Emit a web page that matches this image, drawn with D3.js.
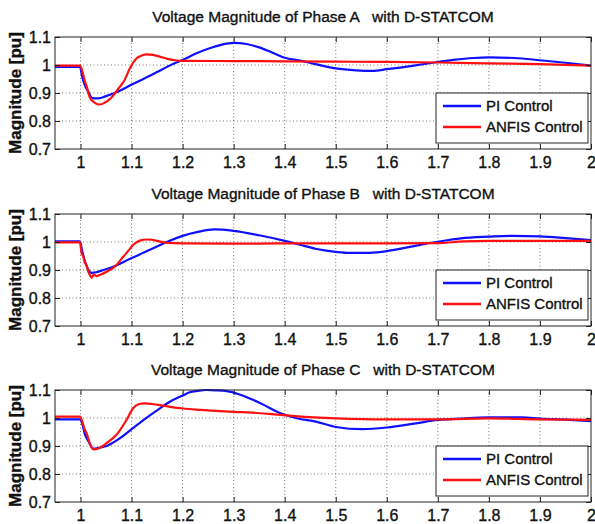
<!DOCTYPE html>
<html>
<head>
<meta charset="utf-8">
<script src="https://cdn.jsdelivr.net/npm/d3@7"></script>
<style>
  body { margin: 0; background: #fff; }
  svg { display: block; font-family: "Liberation Sans", Arial, sans-serif; }
  svg text { stroke: #111; stroke-width: 0.35px; }
  .grid line { stroke: #777; stroke-dasharray: 1,2.5; stroke-width: 1; }
  .axis path { display: none; }
  .axis line { stroke: #222; }
  .axis text { font-size: 16px; fill: #111; }
</style>
</head>
<body>
<div id="chart"></div>
<script>
const width = 595;
const height = 524;

const xTicks = [1, 1.1, 1.2, 1.3, 1.4, 1.5, 1.6, 1.7, 1.8, 1.9, 2];
const yTicks = [0.7, 0.8, 0.9, 1, 1.1];
const titles = [
    'Voltage Magnitude of Phase A   with D-STATCOM',
    'Voltage Magnitude of Phase B   with D-STATCOM',
    'Voltage Magnitude of Phase C   with D-STATCOM'
];
const legendLabels = ['PI Control', 'ANFIS Control'];
const seriesColors = ['#1010ff', '#ff1010'];

// Phase A
const aPiT = [0.95, 0.999, 1.003, 1.008, 1.015, 1.023, 1.035, 1.05, 1.064, 1.08, 1.1, 1.125, 1.15, 1.18, 1.2, 1.225, 1.25, 1.275, 1.3, 1.325, 1.35, 1.375, 1.4, 1.43, 1.46, 1.5, 1.54, 1.572, 1.6, 1.65, 1.69, 1.73, 1.77, 1.8, 1.85, 1.9, 1.95, 2.0];
const aPiV = [0.993, 0.993, 0.96, 0.93, 0.905, 0.882, 0.881, 0.889, 0.898, 0.911, 0.93, 0.952, 0.975, 1.003, 1.018, 1.04, 1.058, 1.072, 1.079, 1.075, 1.063, 1.045, 1.026, 1.016, 1.003, 0.988, 0.981, 0.979, 0.985, 0.997, 1.008, 1.018, 1.025, 1.027, 1.025, 1.017, 1.008, 0.998];
const aAnT = [0.95, 0.999, 1.004, 1.008, 1.012, 1.018, 1.028, 1.038, 1.048, 1.057, 1.067, 1.076, 1.085, 1.097, 1.11, 1.12, 1.13, 1.142, 1.155, 1.17, 1.185, 1.2, 1.3, 1.4, 1.5, 1.6, 1.7, 1.8, 1.9, 2.0];
const aAnV = [0.998, 0.998, 0.975, 0.945, 0.924, 0.885, 0.865, 0.859, 0.866, 0.877, 0.898, 0.92, 0.942, 0.989, 1.024, 1.034, 1.038, 1.036, 1.03, 1.022, 1.017, 1.015, 1.014, 1.013, 1.012, 1.011, 1.009, 1.006, 1.003, 0.998];

// Phase B
const bPiT = [0.95, 0.999, 1.003, 1.008, 1.014, 1.021, 1.033, 1.045, 1.07, 1.097, 1.125, 1.152, 1.17, 1.2, 1.23, 1.262, 1.3, 1.35, 1.4, 1.43, 1.46, 1.5, 1.526, 1.56, 1.59, 1.63, 1.665, 1.7, 1.745, 1.8, 1.845, 1.9, 1.95, 2.0];
const bPiV = [1.002, 1.002, 0.97, 0.935, 0.905, 0.89, 0.893, 0.9, 0.916, 0.94, 0.963, 0.986, 1.001, 1.022, 1.036, 1.045, 1.04, 1.024, 1.004, 0.99, 0.976, 0.965, 0.961, 0.961, 0.965, 0.977, 0.99, 1.001, 1.013, 1.019, 1.022, 1.02, 1.014, 1.007];
const bAnT = [0.95, 0.999, 1.002, 1.005, 1.008, 1.012, 1.015, 1.019, 1.022, 1.026, 1.031, 1.04, 1.051, 1.067, 1.084, 1.095, 1.103, 1.116, 1.13, 1.14, 1.152, 1.17, 1.2, 1.3, 1.4, 1.5, 1.6, 1.7, 1.75, 1.8, 1.9, 2.0];
const bAnV = [0.999, 0.999, 0.96, 0.95, 0.93, 0.915, 0.895, 0.88, 0.872, 0.884, 0.878, 0.884, 0.894, 0.912, 0.948, 0.972, 0.989, 1.005, 1.009, 1.008, 1.003, 0.997, 0.995, 0.994, 0.995, 0.995, 0.995, 0.996, 1.002, 1.004, 1.004, 1.004];

// Phase C
const cPiT = [0.95, 0.999, 1.004, 1.008, 1.016, 1.025, 1.035, 1.051, 1.075, 1.1, 1.125, 1.152, 1.175, 1.2, 1.214, 1.23, 1.246, 1.265, 1.287, 1.31, 1.339, 1.36, 1.385, 1.424, 1.461, 1.5, 1.552, 1.6, 1.657, 1.7, 1.745, 1.8, 1.865, 1.9, 1.95, 2.0];
const cPiV = [0.995, 0.995, 0.975, 0.945, 0.915, 0.891, 0.893, 0.9, 0.925, 0.96, 0.995, 1.03, 1.058, 1.08, 1.092, 1.097, 1.1, 1.099, 1.096, 1.085, 1.064, 1.046, 1.022, 0.999, 0.987, 0.968, 0.96, 0.966, 0.981, 0.993, 0.998, 1.002, 1.002, 0.998, 0.994, 0.989];
const cAnT = [0.95, 0.999, 1.003, 1.008, 1.012, 1.018, 1.025, 1.035, 1.051, 1.07, 1.09, 1.103, 1.115, 1.125, 1.14, 1.165, 1.2, 1.235, 1.3, 1.337, 1.38, 1.42, 1.5, 1.6, 1.7, 1.8, 1.9, 2.0];
const cAnV = [1.005, 1.005, 0.99, 0.96, 0.945, 0.91, 0.888, 0.891, 0.91, 0.939, 0.993, 1.035, 1.05, 1.052, 1.05, 1.043, 1.034, 1.029, 1.022, 1.019, 1.013, 1.007, 0.999, 0.995, 0.995, 0.999, 0.995, 0.993];

const panels = [
    { title: titles[0], top: 37, series: [[aPiT, aPiV], [aAnT, aAnV]] },
    { title: titles[1], top: 214, series: [[bPiT, bPiV], [bAnT, bAnV]] },
    { title: titles[2], top: 390, series: [[cPiT, cPiV], [cAnT, cAnV]] }
];

const plotLeft = 55;
const plotRight = 591;
const plotHeight = 112;

const svg = d3.select('#chart')
    .append('svg')
    .attr('width', width)
    .attr('height', height);

const x = d3.scaleLinear().domain([0.95, 2]).range([plotLeft, plotRight]);

panels.forEach(p => {
    const y = d3.scaleLinear().domain([0.7, 1.1]).range([p.top + plotHeight, p.top]);
    const g = svg.append('g');

    // grid
    const grid = g.append('g').attr('class', 'grid');
    grid.selectAll('.gx')
        .data(xTicks.filter(d => d < 2))
        .enter()
        .append('line')
        .attr('x1', d => x(d)).attr('x2', d => x(d))
        .attr('y1', y(0.7)).attr('y2', y(1.1));
    grid.selectAll('.gy')
        .data(yTicks.filter(d => d > 0.7 && d < 1.1))
        .enter()
        .append('line')
        .attr('x1', plotLeft).attr('x2', plotRight)
        .attr('y1', d => y(d)).attr('y2', d => y(d));

    // lines
    p.series.forEach((s, i) => {
        const pts = s[0].map((t, k) => [t, s[1][k]]);
        g.append('path')
            .datum(pts)
            .attr('fill', 'none')
            .attr('stroke', seriesColors[i])
            .attr('stroke-width', 2.2)
            .attr('stroke-linejoin', 'round')
            .attr('d', d3.line().x(d => x(d[0])).y(d => y(d[1])).curve(d3.curveMonotoneX));
    });

    // axes (ticks point inward like matlab)
    g.append('g')
        .attr('class', 'axis')
        .attr('transform', `translate(0,${y(0.7)})`)
        .call(d3.axisBottom(x).tickValues(xTicks).tickFormat(d3.format('')).tickSize(-5).tickPadding(8));
    g.append('g')
        .attr('class', 'axis')
        .attr('transform', `translate(${plotLeft},0)`)
        .call(d3.axisLeft(y).tickValues(yTicks).tickFormat(d3.format('')).tickSize(-5).tickPadding(4));
    g.append('g')
        .attr('class', 'axis')
        .attr('transform', `translate(0,${y(1.1)})`)
        .call(d3.axisTop(x).tickValues(xTicks).tickFormat('').tickSize(-5));
    g.append('g')
        .attr('class', 'axis')
        .attr('transform', `translate(${plotRight},0)`)
        .call(d3.axisRight(y).tickValues(yTicks).tickFormat('').tickSize(-5));

    // box
    g.append('rect')
        .attr('x', plotLeft)
        .attr('y', p.top)
        .attr('width', plotRight - plotLeft)
        .attr('height', plotHeight)
        .attr('fill', 'none')
        .attr('stroke', '#222')
        .attr('stroke-width', 1);

    // title
    g.append('text')
        .attr('x', (plotLeft + plotRight) / 2)
        .attr('y', p.top - 15)
        .attr('text-anchor', 'middle')
        .attr('font-size', '15.5px')
        .attr('fill', '#111')
        .style('white-space', 'pre')
        .text(p.title);

    // y label
    g.append('text')
        .attr('transform', `translate(21,${p.top + plotHeight / 2}) rotate(-90)`)
        .attr('text-anchor', 'middle')
        .attr('font-size', '17px')
        .attr('font-weight', 'bold')
        .attr('fill', '#111')
        .text('Magnitude [pu]');

    // legend
    const lg = g.append('g').attr('transform', `translate(436,${p.top + 56})`);
    lg.append('rect')
        .attr('width', 152)
        .attr('height', 50)
        .attr('fill', '#fff')
        .attr('stroke', '#222')
        .attr('stroke-width', 1);
    legendLabels.forEach((label, i) => {
        const ly = 13 + i * 21;
        lg.append('line')
            .attr('x1', 7).attr('x2', 45)
            .attr('y1', ly).attr('y2', ly)
            .attr('stroke', seriesColors[i])
            .attr('stroke-width', 2.5);
        lg.append('text')
            .attr('x', 50)
            .attr('y', ly + 5)
            .attr('font-size', '15px')
            .attr('fill', '#111')
            .text(label);
    });
});
</script>
</body>
</html>
